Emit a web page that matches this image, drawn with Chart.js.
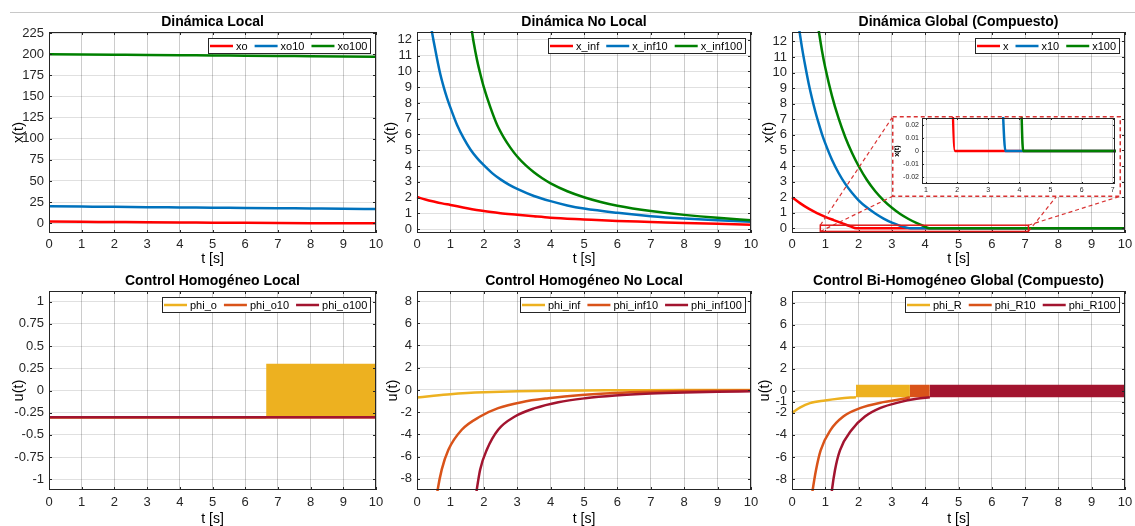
<!DOCTYPE html>
<html>
<head>
<meta charset="utf-8">
<script src="https://cdn.jsdelivr.net/npm/chart.js@4.4.1/dist/chart.umd.min.js"></script>
<style>
  html, body { margin: 0; padding: 0; background: #fff; }
  body { width: 1135px; height: 526px; position: relative; overflow: hidden; }
  canvas { position: absolute; }
  #sep { position: absolute; left: 10px; right: 0; top: 12px; height: 1px; background: #c8c8c8; }
</style>
</head>
<body>
<div id="sep"></div>
<canvas id="c1" width="390" height="256" style="left:0;top:12px"></canvas>
<canvas id="c2" width="395" height="256" style="left:370px;top:12px"></canvas>
<canvas id="c3" width="387" height="256" style="left:748px;top:12px"></canvas>
<canvas id="c4" width="390" height="258" style="left:0;top:268px"></canvas>
<canvas id="c5" width="395" height="258" style="left:370px;top:268px"></canvas>
<canvas id="c6" width="387" height="258" style="left:748px;top:268px"></canvas>
<canvas id="inset" width="229" height="81" style="left:892px;top:116px"></canvas>
<script>
// ---- datos ----
const tTicks = [0, 1, 2, 3, 4, 5, 6, 7, 8, 9, 10];

// Dinámica Local
const tLoc = [0, 1, 2, 3, 4, 5, 6, 7, 8, 9, 10];
const xo = [2, 1.75, 1.5, 1.25, 1.0, 0.75, 0.5, 0.3, 0.15, 0.05, 0];
const xo10 = [20, 19.7, 19.4, 19.0, 18.7, 18.4, 18.1, 17.8, 17.5, 17.2, 16.8];
const xo100 = [200, 199.7, 199.4, 199.1, 198.8, 198.5, 198.2, 197.9, 197.6, 197.3, 197.0];
const locTicks = [0, 25, 50, 75, 100, 125, 150, 175, 200, 225];

// Dinámica No Local
const tInf = [0, 0.25, 0.5, 0.75, 1, 1.5, 2, 2.5, 3, 3.5, 4, 5, 6, 7, 8, 9, 10];
const x_inf = [2.03, 1.88, 1.75, 1.63, 1.53, 1.32, 1.14, 1.01, 0.91, 0.81, 0.72, 0.61, 0.51, 0.45, 0.38, 0.33, 0.28];
const tInf10 = [0.44, 0.5, 0.6, 0.7, 0.8, 0.9, 1.0, 1.2, 1.4, 1.6, 1.8, 2.0, 2.25, 2.5, 2.75, 3, 3.5, 4, 4.5, 5, 6, 7, 8, 9, 10];
const x_inf10 = [12.6, 11.9, 10.8, 9.8, 9.0, 8.3, 7.7, 6.6, 5.75, 5.05, 4.5, 4.05, 3.55, 3.15, 2.82, 2.55, 2.1, 1.77, 1.5, 1.3, 1.03, 0.82, 0.67, 0.56, 0.47];
const tInf100 = [1.64, 1.7, 1.8, 1.9, 2.0, 2.2, 2.4, 2.6, 2.8, 3.0, 3.25, 3.5, 3.75, 4, 4.5, 5, 5.5, 6, 7, 8, 9, 10];
const x_inf100 = [12.6, 11.8, 10.7, 9.8, 9.0, 7.7, 6.6, 5.8, 5.15, 4.6, 4.05, 3.6, 3.22, 2.9, 2.4, 2.02, 1.72, 1.48, 1.14, 0.9, 0.71, 0.56];
const stateTicks = [0, 1, 2, 3, 4, 5, 6, 7, 8, 9, 10, 11, 12];

// Dinámica Global (Compuesto)
const tG = [0, 0.25, 0.5, 0.75, 1, 1.25, 1.5, 1.75, 1.93, 10];
const xG = [2.0, 1.6, 1.26, 0.98, 0.74, 0.53, 0.33, 0.13, 0, 0];
const tG10 = [0.2, 0.3, 0.4, 0.5, 0.6, 0.7, 0.8, 0.9, 1.0, 1.2, 1.4, 1.6, 1.8, 2.0, 2.25, 2.5, 2.75, 3.0, 3.25, 3.45, 3.55, 10];
const xG10 = [13, 11.6, 10.4, 9.3, 8.35, 7.5, 6.75, 6.05, 5.45, 4.4, 3.55, 2.85, 2.28, 1.8, 1.33, 0.95, 0.62, 0.36, 0.16, 0.04, 0, 0];
const tG100 = [0.78, 0.9, 1.0, 1.2, 1.4, 1.6, 1.8, 2.0, 2.25, 2.5, 2.75, 3.0, 3.25, 3.5, 3.75, 4.0, 4.12, 10];
const xG100 = [13, 11.4, 10.3, 8.5, 7.05, 5.85, 4.85, 4.0, 3.1, 2.38, 1.8, 1.32, 0.92, 0.6, 0.33, 0.1, 0, 0];
const zoomT = [0.85, 7.1];
const zoomY = [-0.2, 0.2];
const insetT = [0.87, 7.07];
const insetY = [-0.025, 0.025];
const insetTTicks = [1, 2, 3, 4, 5, 6, 7];
const insetYTicks = [-0.02, -0.01, 0, 0.01, 0.02];

// Control Homogéneo Local
const tPhiO = [0, 6.64];
const phi_o = [-0.3, -0.3];
const phiOBand = { t: [6.64, 10], hi: 0.3, lo: -0.3 };
const tPhiO10 = [0, 10];
const phi_o10 = [-0.3, -0.3];
const phi_o100 = [-0.3, -0.3];
const locCtrlTicks = [-1, -0.75, -0.5, -0.25, 0, 0.25, 0.5, 0.75, 1];

// Control Homogéneo No Local
const tPhiInf = [0, 0.5, 1, 1.5, 2, 3, 4, 5, 6, 8, 10];
const phi_inf = [-0.68, -0.52, -0.38, -0.28, -0.21, -0.12, -0.07, -0.04, -0.03, -0.01, 0];
const tPhiInf10 = [0.55, 0.62, 0.74, 0.94, 1.34, 1.89, 2.43, 3.13, 3.93, 4.93, 5.93, 7, 8, 9, 10];
const phi_inf10 = [-10.5, -8.96, -7.17, -5.38, -3.58, -2.39, -1.64, -1.1, -0.75, -0.45, -0.27, -0.16, -0.1, -0.07, -0.05];
const tPhiInf100 = [1.72, 1.79, 1.89, 2.09, 2.43, 2.93, 3.53, 4.23, 5.03, 5.93, 7, 8, 9, 10];
const phi_inf100 = [-10.5, -8.96, -7.17, -5.38, -3.58, -2.39, -1.64, -1.1, -0.75, -0.5, -0.32, -0.22, -0.16, -0.12];
const ctrlTicks = [-8, -6, -4, -2, 0, 2, 4, 6, 8];

// Control Bi-Homogéneo Global (Compuesto)
const tPhiR = [0, 0.25, 0.54, 0.99, 1.44, 1.92];
const phi_R = [-2.0, -1.5, -1.12, -0.88, -0.7, -0.58];
const phiRBand = { t: [1.92, 3.54], hi: 0.55, lo: -0.58 };
const tPhiR10 = [0.55, 0.62, 0.72, 0.86, 1.16, 1.54, 2.04, 2.74, 3.34, 3.54];
const phi_R10 = [-10.5, -9.0, -7.2, -5.4, -3.55, -2.34, -1.58, -1.03, -0.73, -0.58];
const phiR10Band = { t: [3.54, 4.14], hi: 0.55, lo: -0.58 };
const tPhiR100 = [1.15, 1.2, 1.29, 1.44, 1.79, 2.19, 2.64, 3.24, 3.74, 4.14];
const phi_R100 = [-10.5, -9.0, -7.2, -5.4, -3.55, -2.34, -1.58, -1.03, -0.73, -0.58];
const phiR100Band = { t: [4.14, 10], hi: 0.55, lo: -0.58 };
const globCtrlTicks = [-8, -6, -4, -2, -1, 0, 2, 4, 6, 8];

// colores
const RED = '#ff0000', BLUE = '#0072BD', GREEN = '#008000';
const YEL = '#EDB120', ORA = '#D95319', DRED = '#A2142F';

const FONT = '"Liberation Sans", Arial, Helvetica, sans-serif';
Chart.defaults.font.family = FONT;
Chart.defaults.color = '#262626';

const pts = (ts, vs) => ts.map((t, i) => ({ x: t, y: vs[i] }));
const line = (label, ts, vs, color) => ({ label, data: pts(ts, vs), borderColor: color, backgroundColor: color, fill: false });
const band = (b, color) => ({
  data: b.t.map(t => ({ x: t, y: b.hi })),
  borderColor: color, backgroundColor: color, borderWidth: 0,
  fill: { value: b.lo }, cubicInterpolationMode: 'default', tension: 0
});

// caja de ejes estilo MATLAB + marcas hacia dentro
const axesBox = {
  id: 'axesBox',
  afterDatasetsDraw(chart, args, opts) {
    const { ctx, chartArea: a, scales } = chart;
    const len = opts.len || 3;
    ctx.save();
    ctx.strokeStyle = '#262626';
    ctx.lineWidth = 1;
    ctx.strokeRect(Math.round(a.left) + 0.5, Math.round(a.top) + 0.5, Math.round(a.right - a.left) - 1, Math.round(a.bottom - a.top) - 1);
    ctx.beginPath();
    scales.x.ticks.forEach(t => {
      const px = Math.round(scales.x.getPixelForValue(t.value)) + 0.5;
      ctx.moveTo(px, a.bottom); ctx.lineTo(px, a.bottom - len);
      ctx.moveTo(px, a.top); ctx.lineTo(px, a.top + len);
    });
    scales.y.ticks.forEach(t => {
      const py = Math.round(scales.y.getPixelForValue(t.value)) + 0.5;
      ctx.moveTo(a.left, py); ctx.lineTo(a.left + len, py);
      ctx.moveTo(a.right, py); ctx.lineTo(a.right - len, py);
    });
    ctx.stroke();
    ctx.restore();
  }
};

// leyenda en caja, arriba a la derecha dentro del área
const boxLegend = {
  id: 'boxLegend',
  afterDraw(chart, args, opts) {
    if (!opts.show) return;
    const { ctx, chartArea: a } = chart;
    const items = chart.data.datasets.filter(d => d.label);
    ctx.save();
    ctx.font = '11px ' + FONT;
    const sw = 23, gap = 3, sep = 7, padL = 2, padR = 4, h = 16;
    const widths = items.map(d => ctx.measureText(d.label).width);
    const total = padL + padR + widths.reduce((s, w) => s + sw + gap + w, 0) + sep * (items.length - 1);
    const right = Math.round(a.right) - 5, top = Math.round(a.top) + 6;
    const left = Math.round(right - total);
    ctx.fillStyle = '#fff';
    ctx.fillRect(left, top, right - left, h);
    ctx.strokeStyle = '#262626';
    ctx.lineWidth = 1;
    ctx.strokeRect(left + 0.5, top + 0.5, right - left - 1, h - 1);
    let x = left + padL;
    const cy = top + h / 2;
    items.forEach((d, i) => {
      ctx.strokeStyle = d.borderColor;
      ctx.lineWidth = 2.5;
      ctx.beginPath(); ctx.moveTo(x, cy); ctx.lineTo(x + sw, cy); ctx.stroke();
      x += sw + gap;
      ctx.fillStyle = '#000';
      ctx.textBaseline = 'middle';
      ctx.textAlign = 'left';
      ctx.fillText(d.label, x, cy + 0.5);
      x += widths[i] + sep;
    });
    ctx.restore();
  }
};

// rectángulo de zoom y líneas hacia el recuadro ampliado
const zoomLink = {
  id: 'zoomLink',
  afterDatasetsDraw(chart, args, opts) {
    if (!opts.target) return;
    const { ctx, scales: { x, y } } = chart;
    const x0 = x.getPixelForValue(opts.t[0]), x1 = x.getPixelForValue(opts.t[1]);
    const yt = y.getPixelForValue(opts.y[1]), yb = y.getPixelForValue(opts.y[0]);
    const T = opts.target;
    ctx.save();
    ctx.strokeStyle = 'rgba(215,40,40,0.95)';
    ctx.lineWidth = 1.2;
    ctx.setLineDash([4, 3]);
    ctx.beginPath();
    ctx.moveTo(x0, yt); ctx.lineTo(T.left, T.top);
    ctx.moveTo(x0, yb); ctx.lineTo(T.left, T.bottom);
    ctx.moveTo(x1, yb); ctx.lineTo(T.right, T.top);
    ctx.moveTo(x1, yt); ctx.lineTo(T.right, T.bottom);
    ctx.stroke();
    ctx.setLineDash([]);
    ctx.strokeStyle = '#e01818';
    ctx.lineWidth = 1.5;
    ctx.strokeRect(x0, yt, x1 - x0, yb - yt);
    ctx.restore();
  }
};

// fondo blanco y marco discontinuo del recuadro
const insetFrame = {
  id: 'insetFrame',
  beforeDraw(chart) {
    const { ctx, width, height } = chart;
    ctx.save(); ctx.fillStyle = '#fff'; ctx.fillRect(0, 0, width, height); ctx.restore();
  },
  afterDraw(chart) {
    const { ctx, width, height } = chart;
    ctx.save();
    ctx.strokeStyle = 'rgba(215,40,40,0.95)';
    ctx.lineWidth = 1.5;
    ctx.setLineDash([4, 3]);
    ctx.strokeRect(0.75, 0.75, width - 1.5, height - 1.5);
    ctx.restore();
  }
};

const fmt = v => { const s = String(+(+v).toFixed(4)); return s === '-0' ? '0' : s; };

function makeChart(id, o) {
  o.datasets.forEach((d, i) => { d.order = -i; d.clip = 1; });
  const tickFont = o.tickFont || 13;
  return new Chart(document.getElementById(id), {
    type: 'line',
    data: { datasets: o.datasets },
    options: {
      responsive: false,
      animation: false,
      events: [],
      layout: { padding: { left: 0, right: o.padR, top: o.padT || 0, bottom: 0 } },
      elements: {
        point: { radius: 0 },
        line: { borderWidth: o.lw || 2.5, cubicInterpolationMode: 'monotone' }
      },
      plugins: {
        legend: { display: false },
        tooltip: { enabled: false },
        title: {
          display: !!o.title, text: o.title, fullSize: false, color: '#000',
          font: { size: 14, weight: 'bold', lineHeight: 1.2 }, padding: o.titlePad
        },
        boxLegend: { show: !!o.legend },
        axesBox: { len: o.tickLen || 3 },
        zoomLink: o.zoomLink || {}
      },
      scales: {
        x: {
          type: 'linear', min: o.xMin, max: o.xMax,
          afterBuildTicks: s => { s.ticks = o.xTicks.map(v => ({ value: v })); },
          afterFit: s => { s.height = o.xH; s.paddingLeft = 0; s.paddingRight = 0; },
          ticks: { callback: fmt, font: { size: tickFont }, padding: o.xTickPad || 4, maxRotation: 0, autoSkip: false, color: '#262626' },
          grid: { color: o.xGrid || 'rgba(0,0,0,0.2)', drawTicks: false, lineWidth: 1 },
          border: { display: false },
          title: o.xTitle ? {
            display: true, text: o.xTitle, color: '#000',
            font: { size: 14, lineHeight: o.xTitleLH || 1.2 }, padding: { top: 0, bottom: 0 }
          } : { display: false }
        },
        y: {
          type: 'linear', min: o.yMin, max: o.yMax,
          afterBuildTicks: s => { s.ticks = o.yTicks.map(v => ({ value: v })); },
          afterFit: s => { s.width = o.yW; s.paddingTop = 0; s.paddingBottom = 0; },
          ticks: { callback: fmt, font: { size: tickFont }, padding: o.yTickPad || 5, autoSkip: false, color: '#262626' },
          grid: { color: o.yGrid || 'rgba(0,0,0,0.12)', drawTicks: false, lineWidth: 1 },
          border: { display: false },
          title: {
            display: true, text: o.yTitle, color: '#000',
            font: { size: o.yTitleSize || 14.5, weight: o.yTitleWeight || 'normal', lineHeight: 1.2 },
            padding: { top: o.yTitlePad, bottom: 0 }
          }
        }
      }
    },
    plugins: [axesBox, boxLegend, zoomLink].concat(o.extraPlugins || [])
  });
}

const topRow = { xH: 35, titlePad: { top: 2.1, bottom: 1.1 }, xTitle: 't [s]', xTitleLH: 1.2, xMin: 0, xMax: 10, xTicks: tTicks };
const botRow = { xH: 36, titlePad: { top: 4.3, bottom: 1.9 }, xTitle: 't [s]', xTitleLH: 1.0, xMin: 0, xMax: 10, xTicks: tTicks, xTickPad: 5 };

makeChart('c1', Object.assign({}, topRow, {
  title: 'Dinámica Local', padR: 14, yW: 49, yTitlePad: 10.3, yTitle: 'x(t)',
  yMin: -11.5, yMax: 226.2, yTicks: locTicks, legend: true,
  datasets: [line('xo', tLoc, xo, RED), line('xo10', tLoc, xo10, BLUE), line('xo100', tLoc, xo100, GREEN)]
}));

makeChart('c2', Object.assign({}, topRow, {
  title: 'Dinámica No Local', padR: 14, yW: 47, yTitlePad: 12.6, yTitle: 'x(t)',
  yMin: -0.25, yMax: 12.5, yTicks: stateTicks, legend: true,
  datasets: [line('x_inf', tInf, x_inf, RED), line('x_inf10', tInf10, x_inf10, BLUE), line('x_inf100', tInf100, x_inf100, GREEN)]
}));

// posición del recuadro ampliado respecto del lienzo c3
const c3Box = { left: 748, top: 12 }, insetBox = { left: 892, top: 116, width: 229, height: 81 };

makeChart('c3', Object.assign({}, topRow, {
  title: 'Dinámica Global (Compuesto)', padR: 10, yW: 44, yTitlePad: 12, yTitle: 'x(t)',
  yMin: -0.3, yMax: 12.6, yTicks: stateTicks, legend: true,
  zoomLink: {
    t: zoomT, y: zoomY,
    target: {
      left: insetBox.left - c3Box.left + 0.75, top: insetBox.top - c3Box.top + 0.75,
      right: insetBox.left - c3Box.left + insetBox.width - 0.75, bottom: insetBox.top - c3Box.top + insetBox.height - 0.75
    }
  },
  datasets: [line('x', tG, xG, RED), line('x10', tG10, xG10, BLUE), line('x100', tG100, xG100, GREEN)]
}));

makeChart('inset', {
  padR: 6, padT: 2, yW: 30, xH: 13, tickFont: 7, tickLen: 2, lw: 2.5,
  xMin: insetT[0], xMax: insetT[1], xTicks: insetTTicks, xTickPad: 2,
  yMin: insetY[0], yMax: insetY[1], yTicks: insetYTicks, yTickPad: 3,
  yTitle: 'x(t)', yTitleSize: 7.5, yTitleWeight: 'bold', yTitlePad: 0.5,
  xGrid: 'rgba(0,0,0,0.15)', yGrid: 'rgba(0,0,0,0.1)',
  extraPlugins: [insetFrame],
  datasets: [line('x', tG, xG, RED), line('x10', tG10, xG10, BLUE), line('x100', tG100, xG100, GREEN)]
});

makeChart('c4', Object.assign({}, botRow, {
  title: 'Control Homogéneo Local', padR: 14, yW: 49, yTitlePad: 10.3, yTitle: 'u(t)',
  yMin: -1.12, yMax: 1.12, yTicks: locCtrlTicks, legend: true,
  datasets: [
    line('phi_o', tPhiO, phi_o, YEL), band(phiOBand, YEL),
    line('phi_o10', tPhiO10, phi_o10, ORA), line('phi_o100', tPhiO10, phi_o100, DRED)
  ]
}));

makeChart('c5', Object.assign({}, botRow, {
  title: 'Control Homogéneo No Local', padR: 14, yW: 47, yTitlePad: 14.3, yTitle: 'u(t)',
  yMin: -9, yMax: 8.9, yTicks: ctrlTicks, legend: true,
  datasets: [
    line('phi_inf', tPhiInf, phi_inf, YEL), line('phi_inf10', tPhiInf10, phi_inf10, ORA),
    line('phi_inf100', tPhiInf100, phi_inf100, DRED)
  ]
}));

makeChart('c6', Object.assign({}, botRow, {
  title: 'Control Bi-Homogéneo Global (Compuesto)', padR: 10, yW: 44, yTitlePad: 8.3, yTitle: 'u(t)',
  yMin: -9, yMax: 9.05, yTicks: globCtrlTicks, legend: true,
  datasets: [
    line('phi_R', tPhiR, phi_R, YEL), band(phiRBand, YEL),
    line('phi_R10', tPhiR10, phi_R10, ORA), band(phiR10Band, ORA),
    line('phi_R100', tPhiR100, phi_R100, DRED), band(phiR100Band, DRED)
  ]
}));
</script>
</body>
</html>
